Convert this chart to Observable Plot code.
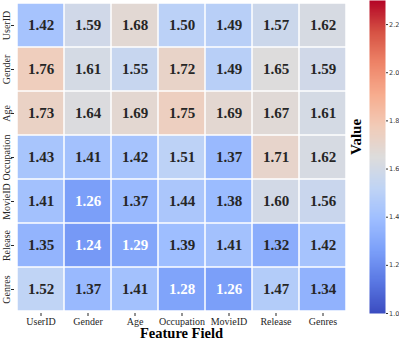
<!DOCTYPE html>
<html><head><meta charset="utf-8">
<script src="https://cdn.jsdelivr.net/npm/d3@7"></script>
<script src="https://cdn.jsdelivr.net/npm/@observablehq/plot@0.6"></script>
<style>
body{margin:0;background:#fff;}
#wrap{position:relative;width:399px;height:340px;}
#wrap svg{position:absolute;top:0;}
</style>
</head><body><div id="wrap"></div>
<script>
const fields = ["UserID","Gender","Age","Occupation","MovieID","Release","Genres"];
const rowUserID     = [1.42,1.59,1.68,1.50,1.49,1.57,1.62];
const rowGender     = [1.76,1.61,1.55,1.72,1.49,1.65,1.59];
const rowAge        = [1.73,1.64,1.69,1.75,1.69,1.67,1.61];
const rowOccupation = [1.43,1.41,1.42,1.51,1.37,1.71,1.62];
const rowMovieID    = [1.41,1.26,1.37,1.44,1.38,1.60,1.56];
const rowRelease    = [1.35,1.24,1.29,1.39,1.41,1.32,1.42];
const rowGenres     = [1.52,1.37,1.41,1.28,1.26,1.47,1.34];
const rows = [rowUserID,rowGender,rowAge,rowOccupation,rowMovieID,rowRelease,rowGenres];
const colorTicks = [1.0,1.2,1.4,1.6,1.8,2.0,2.2];
const colorDomain = [1.0, 2.3];
const coolwarm = ["#3b4cc0","#5977e3","#7b9ff9","#9ebeff","#c0d4f5","#dddcdc","#f2cbb7","#f7ac8e","#ee8468","#d65244","#b40426"];

const data = [];
rows.forEach((r,i)=>r.forEach((v,j)=>data.push({row:fields[i], col:fields[j], value:v})));

const colorOpt = {type:"linear", domain:colorDomain, interpolate: d3.piecewise(d3.interpolateRgb, coolwarm)};
const serif = "'Liberation Serif','Times New Roman',serif";

const main = Plot.plot({
  width:399, height:340,
  marginLeft:14, marginRight:51, marginTop:0, marginBottom:27,
  style:{fontFamily:serif, fontSize:"10px", color:"#262626", background:"transparent"},
  x:{domain:fields, padding:0, label:null},
  y:{domain:fields, padding:0, label:null},
  color:colorOpt,
  marks:[
    Plot.cell(data,{x:"col", y:"row", fill:"value", inset:0.75}),
    Plot.text(data,{x:"col", y:"row", text:d=>d.value.toFixed(2), fontSize:15, fontWeight:"bold", fontFamily:serif,
      fill:d=>d.value<1.3?"#ffffff":"#262626"}),
    Plot.axisX({tickSize:3, tickPadding:1, fontSize:10, label:null}),
    Plot.axisY({tickSize:3, tickPadding:2, tickRotate:-90, fontSize:10, label:null}),
    Plot.text(["Feature Field"],{frameAnchor:"bottom", lineAnchor:"middle", dy:20, fontSize:14.5, fontWeight:"bold", fontFamily:serif, fill:"#000"})
  ]
});

const bar = Plot.plot({
  width:54, height:340,
  marginLeft:24, marginRight:14, marginTop:0, marginBottom:27,
  style:{fontFamily:"'DejaVu Sans',sans-serif", fontSize:"6.5px", color:"#333", background:"transparent"},
  x:{domain:[0,1], axis:null},
  y:{domain:colorDomain, label:null},
  color:colorOpt,
  marks:[
    Plot.raster({x1:0, x2:1, y1:colorDomain[0], y2:colorDomain[1], width:1, height:300, fill:(x,y)=>y, imageRendering:"auto"}),
    Plot.axisY({anchor:"right", ticks:colorTicks, tickFormat:d3.format(".1f"), tickSize:2, tickPadding:1.5, label:null, fontSize:6.5}),
    Plot.text(["Value"],{frameAnchor:"left", dx:-13, dy:-2, rotate:-90, fontSize:15, fontWeight:"bold", fontFamily:serif, fill:"#000"})
  ]
});
bar.style.left = "345px";
main.style.left = "0px";
const wrap = document.getElementById("wrap");
wrap.appendChild(main);
wrap.appendChild(bar);
</script>
</body></html>
